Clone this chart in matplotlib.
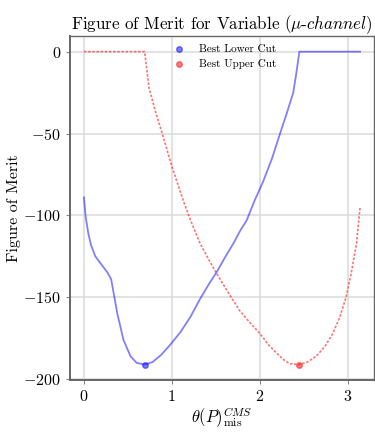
import matplotlib
matplotlib.use("Agg")
import matplotlib.pyplot as plt

# best lower cut scan (blue)
x_lower = [0.0, 0.02, 0.05, 0.08, 0.13, 0.20, 0.27, 0.31, 0.34, 0.38, 0.45, 0.53, 0.60,
           0.69, 0.78, 0.88, 0.98, 1.10, 1.21, 1.32, 1.42, 1.51, 1.60, 1.70, 1.78, 1.85,
           1.94, 2.04, 2.14, 2.23, 2.31, 2.38, 2.41, 2.45, 2.6, 2.8, 3.0, 3.14]
y_lower = [-89, -101, -111, -118, -125, -130, -135, -139, -148, -160, -176, -186, -190,
           -191, -189.5, -185, -179, -171, -162, -151, -142, -134.5, -126, -117, -109, -103,
           -91, -79, -65, -50, -37, -25, -15, 0, 0, 0, 0, 0]

# best upper cut scan (red)
x_upper = [0.0, 0.3, 0.6, 0.69, 0.74, 0.81, 0.89, 1.0, 1.13, 1.22, 1.32, 1.42, 1.51, 1.64,
           1.77, 1.88, 2.0, 2.10, 2.19, 2.27, 2.34, 2.45, 2.54, 2.64, 2.74, 2.83, 2.91, 2.98,
           3.04, 3.10, 3.14]
y_upper = [0, 0, 0, 0, -22, -36, -50, -70, -91, -104, -117, -127, -135.5, -147,
           -158, -165, -172, -179, -184, -188, -190.5, -191, -189.5, -186, -180, -172, -162, -150,
           -135, -117, -95]

best_lower = (0.69, -191)
best_upper = (2.45, -191)

plt.rcParams['font.family'] = 'cmr10'
plt.rcParams['mathtext.fontset'] = 'cm'
plt.rcParams['axes.formatter.use_mathtext'] = True

fig = plt.figure(figsize=(3.75, 4.34), dpi=100)
ax = fig.add_axes([0.187, 0.124, 0.81, 0.793])

ax.plot(x_lower, y_lower, color='blue', alpha=0.5, lw=1.3)
ax.plot(x_upper, y_upper, color='red', alpha=0.55, lw=1.2, ls=(0, (1.5, 1)))
ax.scatter(*best_lower, color='blue', alpha=0.5, s=16, label='Best Lower Cut')
ax.scatter(*best_upper, color='red', alpha=0.5, s=16, label='Best Upper Cut')

ax.grid(True, color='#dddddd', lw=1.2)
ax.set_axisbelow(True)
for s in ax.spines.values():
    s.set_color('#666666')
    s.set_linewidth(1.0)
ax.spines['left'].set_linewidth(1.4)
ax.spines['bottom'].set_linewidth(1.4)
ax.tick_params(labelsize=11.5, length=3, color='#888888')
ax.set_xticks([0, 1, 2, 3])
ax.set_yticks([0, -50, -100, -150, -200])

ax.set_title(r'Figure of Merit for Variable ($\mu$-$channel$)', fontsize=12.2, pad=4)
ax.set_ylabel('Figure of Merit', fontsize=11.5, labelpad=2)
ax.set_xlabel(r'$\theta(P)^{CMS}_{\mathrm{mis}}$', fontsize=12, labelpad=1)
ax.legend(loc='upper center', frameon=False, fontsize=8, handletextpad=0.8,
          borderaxespad=0.3)

fig.savefig('out.png', dpi=100)
